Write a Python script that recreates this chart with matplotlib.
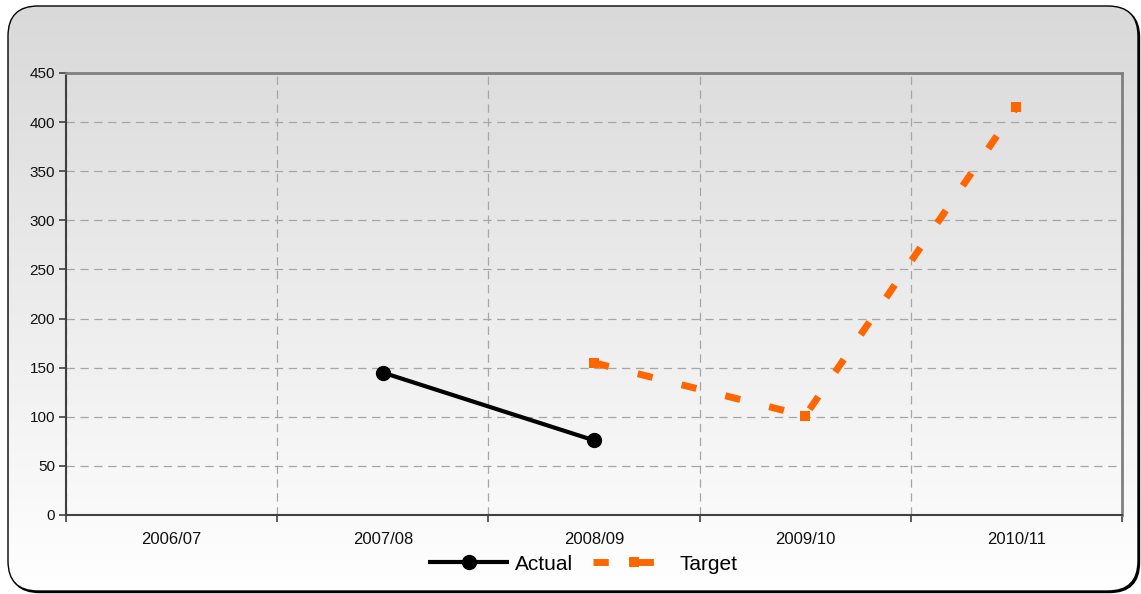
import numpy as np
import matplotlib
matplotlib.use("Agg")
import matplotlib.pyplot as plt
from matplotlib.patches import FancyBboxPatch

plt.rcParams['font.family'] = ['Liberation Sans', 'DejaVu Sans']
plt.rcParams['lines.scale_dashes'] = False

# data
years = ["2006/07", "2007/08", "2008/09", "2009/10", "2010/11"]
actual = [np.nan, 145, 76, np.nan, np.nan]
target = [np.nan, np.nan, 155, 101, 415]
y_ticks = list(range(0, 451, 50))

W, H = 1141, 594
fig = plt.figure(figsize=(W / 100, H / 100), dpi=100)

# background: rounded box with vertical grey->white gradient
bg = fig.add_axes([0, 0, 1, 1])
bg.set_xlim(0, W)
bg.set_ylim(H, 0)
bg.axis('off')
shadow = FancyBboxPatch((9.5, 7.5), 1130, 585, boxstyle="round,pad=0,rounding_size=30",
                        facecolor='black', edgecolor='black', lw=1.0)
bg.add_patch(shadow)
box = FancyBboxPatch((8, 6), 1130, 585, boxstyle="round,pad=0,rounding_size=30",
                     facecolor='none', edgecolor='black', lw=1.0, zorder=3)
bg.add_patch(box)
grad = np.linspace(0, 1, 256).reshape(-1, 1)
top = np.array([217, 217, 217]) / 255.0
bot = np.array([255, 255, 255]) / 255.0
img = (top + (bot - top) * grad[..., None]).reshape(256, 1, 3)
im = bg.imshow(img, extent=[8, 1138, 591, 6], aspect='auto', zorder=2)
im.set_clip_path(box)

# plot area
ax = fig.add_axes([66 / W, 1 - 515 / H, (1122 - 66) / W, (515 - 73) / H])
ax.patch.set_alpha(0)
x = np.arange(len(years))

ax.plot(x, actual, color='black', lw=3.0, marker='o', ms=10, zorder=4,
        solid_capstyle='butt', label='Actual')
ax.plot(x, target, color='#ff6600', lw=5.0, marker='s', ms=7.5, mew=0, zorder=4,
        dashes=(11, 21.5), dash_capstyle='butt', label='Target')

ax.set_xlim(-0.5, len(years) - 0.5)
ax.set_ylim(0, 450)
ax.set_yticks(y_ticks)
ax.set_xticks(x)
ax.set_xticklabels(years)
ax.set_xticks(np.arange(-0.5, len(years)), minor=True)

ax.tick_params(axis='x', which='major', length=0, pad=12.5, labelsize=12, colors='#111111')
ax.tick_params(axis='x', which='minor', length=5, width=1.2, direction='out', color='#404040')
ax.tick_params(axis='y', which='major', length=5, width=1.2, direction='out', color='#404040',
               labelsize=11, pad=3, labelcolor='#111111')

ax.grid(True, axis='y', which='major', color='#a6a6a6', lw=0.9, dashes=(6, 4))
ax.grid(True, axis='x', which='minor', color='#a6a6a6', lw=0.9, dashes=(6, 4))
ax.set_axisbelow(True)

for s in ['left', 'bottom']:
    ax.spines[s].set_color('#404040')
    ax.spines[s].set_linewidth(1.5)
for s in ['top', 'right']:
    ax.spines[s].set_color('#808080')
    ax.spines[s].set_linewidth(2.0)

leg = fig.legend(loc='center', bbox_to_anchor=(583 / W, 1 - 564 / H), ncol=2,
                 frameon=False, fontsize=15, handlelength=3.9, handletextpad=0.25,
                 columnspacing=1.0, borderpad=0, borderaxespad=0)

fig.savefig("out.png", dpi=100)
